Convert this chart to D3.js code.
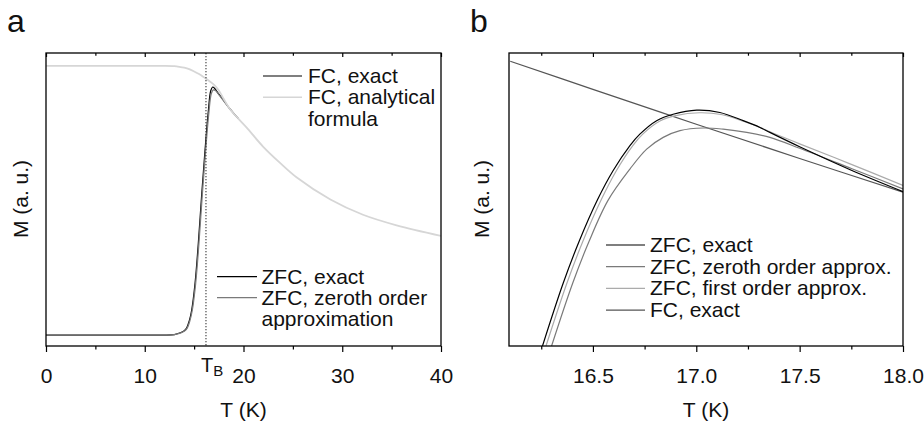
<!DOCTYPE html>
<html><head><meta charset="utf-8">
<script src="https://cdn.jsdelivr.net/npm/d3@7"></script>
<style>body{margin:0;background:#fff} text{font-family:"Liberation Sans",Arial,Helvetica,sans-serif;fill:#111}</style>
</head><body><svg id="c" width="924" height="422"></svg>
<script>
// ---------- Panel a data (T in K, M in a.u., 0..1 of frame) ----------
const aZfcExactT = [0, 10, 12, 13, 13.6, 14.0, 14.25, 14.5, 14.75, 15.09, 15.42, 15.77, 16.10, 16.44, 16.68, 16.88, 17.1, 17.45, 18.0, 18.6, 19.5];
const aZfcExactM = [0.037, 0.037, 0.037, 0.039, 0.045, 0.052, 0.062, 0.085, 0.122, 0.213, 0.349, 0.519, 0.667, 0.803, 0.871, 0.884, 0.878, 0.862, 0.838, 0.810, 0.775];
const aZfcZerothT = [0, 10, 12, 13, 13.66, 14.06, 14.31, 14.56, 14.81, 15.15, 15.48, 15.83, 16.16, 16.50, 16.74, 16.94, 17.15, 17.5, 18.0, 18.6, 19.5];
const aZfcZerothM = [0.037, 0.037, 0.037, 0.039, 0.045, 0.052, 0.062, 0.085, 0.122, 0.213, 0.349, 0.519, 0.667, 0.800, 0.862, 0.874, 0.872, 0.858, 0.836, 0.810, 0.775];
const aFcExactT = [16.9, 17.1, 17.45, 18.0, 18.6, 19.5];
const aFcExactM = [0.884, 0.878, 0.862, 0.838, 0.810, 0.775];
const aFcAnalyticalT = [0, 10, 12, 13, 13.5, 14, 14.5, 15, 15.5, 16, 16.5, 17, 17.5, 18, 18.6, 19.5, 20.3, 22, 23.7, 25.4, 28.8, 32.1, 35.5, 40];
const aFcAnalyticalM = [0.956, 0.956, 0.956, 0.955, 0.953, 0.950, 0.945, 0.937, 0.928, 0.917, 0.905, 0.892, 0.872, 0.843, 0.810, 0.775, 0.746, 0.680, 0.625, 0.575, 0.500, 0.448, 0.412, 0.376];
const aTB = 16.2;
const aMajorTicks = [0, 10, 20, 30, 40];
const aMinorTicks = [5, 15, 25, 35];
const aTickLabels = ["0", "10", "20", "30", "40"];

// ---------- Panel b data ----------
const bZfcExactT = [16.256, 16.356, 16.432, 16.522, 16.598, 16.679, 16.727, 16.808, 16.888, 17.002, 17.114, 17.227, 17.308, 17.356, 17.5, 17.75, 18.0];
const bZfcExactM = [0.0, 0.214, 0.355, 0.499, 0.599, 0.684, 0.723, 0.769, 0.791, 0.805, 0.797, 0.769, 0.746, 0.729, 0.680, 0.600, 0.527];
const bZfcZerothT = [16.300, 16.402, 16.480, 16.573, 16.679, 16.760, 16.840, 16.921, 17.034, 17.130, 17.244, 17.356, 17.5, 17.75, 18.0];
const bZfcZerothM = [0.0, 0.214, 0.355, 0.497, 0.604, 0.672, 0.712, 0.735, 0.744, 0.740, 0.729, 0.712, 0.675, 0.606, 0.536];
const bZfcFirstT = [16.273, 16.374, 16.450, 16.540, 16.614, 16.693, 16.741, 16.822, 16.900, 17.015, 17.120, 17.227, 17.308, 17.356, 17.5, 17.75, 18.0];
const bZfcFirstM = [0.0, 0.214, 0.355, 0.499, 0.599, 0.684, 0.723, 0.767, 0.786, 0.796, 0.790, 0.767, 0.746, 0.731, 0.690, 0.620, 0.548];
const bFcExactT = [16.1, 16.5, 17.0, 17.5, 18.0];
const bFcExactM = [0.972, 0.876, 0.757, 0.640, 0.525];
const bMajorTicks = [16.5, 17.0, 17.5, 18.0];
const bMinorTicks = [16.25, 16.75, 17.25, 17.75];
const bTickLabels = ["16.5", "17.0", "17.5", "18.0"];

const svg = d3.select("#c");
const zip = (T, M) => T.map((t, i) => ({t, m: M[i]}));

function panel(cfg) {
  const x = d3.scaleLinear().domain(cfg.xDomain).range([cfg.left, cfg.right]);
  const y = d3.scaleLinear().domain([0, 1]).range([346, 53]);
  const g = svg.append("g");
  const clipId = "clip" + cfg.id;
  svg.append("clipPath").attr("id", clipId).append("rect")
    .attr("x", cfg.left).attr("y", 53).attr("width", cfg.right - cfg.left).attr("height", 293);
  const line = d3.line().x(d => x(d.t)).y(d => y(d.m)).curve(d3.curveCatmullRom.alpha(0.5));
  const plot = g.append("g").attr("clip-path", `url(#${clipId})`);
  cfg.series.forEach(s => {
    plot.append("path").datum(zip(s.T, s.M)).attr("d", line)
      .attr("fill", "none").attr("stroke", s.color).attr("stroke-width", s.w);
  });
  if (cfg.tb !== undefined) {
    g.append("line").attr("x1", x(cfg.tb)).attr("x2", x(cfg.tb)).attr("y1", 53).attr("y2", 346)
      .attr("stroke", "#222").attr("stroke-width", 1).attr("stroke-dasharray", "1.3,1.7");
    const tl = g.append("text").attr("x", x(cfg.tb) - 5).attr("y", 372).attr("font-size", 20).text("T");
    tl.append("tspan").attr("font-size", 15).attr("dy", 4).text("B");
  }
  const fmt = v => cfg.labels[cfg.major.indexOf(v)];
  const bot = g.append("g").attr("transform", "translate(0,346)")
    .call(d3.axisBottom(x).tickValues(cfg.major).tickSizeInner(6).tickSizeOuter(0).tickFormat(fmt));
  bot.select(".domain").remove();
  bot.selectAll("text").attr("y", 37).attr("dy", 0).attr("font-size", 21)
    .style("font-family", '"Liberation Sans",Arial,sans-serif').attr("fill", "#111");
  bot.selectAll("line").attr("stroke", "#000").attr("stroke-width", 1.2);
  const botMin = g.append("g").attr("transform", "translate(0,346)")
    .call(d3.axisBottom(x).tickValues(cfg.minor).tickSizeInner(3.5).tickSizeOuter(0).tickFormat(""));
  botMin.select(".domain").remove();
  botMin.selectAll("line").attr("stroke", "#000").attr("stroke-width", 1.2);
  const top = g.append("g").attr("transform", "translate(0,53)")
    .call(d3.axisBottom(x).tickValues(cfg.major).tickSizeInner(4).tickSizeOuter(0).tickFormat(""));
  top.select(".domain").remove();
  top.selectAll("line").attr("stroke", "#000").attr("stroke-width", 1.2);
  const topMin = g.append("g").attr("transform", "translate(0,53)")
    .call(d3.axisBottom(x).tickValues(cfg.minor).tickSizeInner(2.7).tickSizeOuter(0).tickFormat(""));
  topMin.select(".domain").remove();
  topMin.selectAll("line").attr("stroke", "#000").attr("stroke-width", 1.2);
  g.append("rect").attr("x", cfg.left).attr("y", 53).attr("width", cfg.right - cfg.left).attr("height", 293)
    .attr("fill", "none").attr("stroke", "#000").attr("stroke-width", 1.3);
  g.append("text").attr("x", (cfg.left + cfg.right) / 2).attr("y", 417).attr("text-anchor", "middle")
    .attr("font-size", 21).text("T (K)");
  g.append("text").attr("transform", `translate(${cfg.yTitleX},199) rotate(-90)`).attr("text-anchor", "middle")
    .attr("font-size", 21).text("M (a. u.)");
  g.append("text").attr("x", cfg.letterX).attr("y", 31.5).attr("font-size", 32).text(cfg.letter);
  cfg.legends.forEach(L => {
    L.items.forEach((it, i) => {
      const yy = L.y + i * L.dy;
      g.append("line").attr("x1", L.x1).attr("x2", L.x2).attr("y1", yy).attr("y2", yy)
        .attr("stroke", it.color).attr("stroke-width", it.w);
      it.lines.forEach((txt, j) => {
        g.append("text").attr("x", L.tx).attr("y", yy + 7 + j * L.dy).attr("font-size", 21).text(txt);
      });
    });
  });
}

const cZfcExact = "#000", cZfcZeroth = "#7a7a7a", cZfcFirst = "#ababab", cFcExact = "#555", cFcAnal = "#d6d6d6";

panel({
  id: "a", letter: "a", letterX: 7, xDomain: [0, 40], left: 46, right: 441, yTitleX: 28,
  major: aMajorTicks, minor: aMinorTicks, labels: aTickLabels, tb: aTB,
  series: [
    {T: aFcExactT, M: aFcExactM, color: cFcExact, w: 1},
    {T: aZfcExactT, M: aZfcExactM, color: cZfcExact, w: 1.2},
    {T: aZfcZerothT, M: aZfcZerothM, color: cZfcZeroth, w: 1.3},
    {T: aFcAnalyticalT, M: aFcAnalyticalM, color: cFcAnal, w: 1.8}
  ],
  legends: [
    {x1: 263, x2: 302, tx: 308, y: 76, dy: 21.3, items: [
      {color: cFcExact, w: 1.4, lines: ["FC, exact"]},
      {color: cFcAnal, w: 1.4, lines: ["FC, analytical", "formula"]}
    ]},
    {x1: 217, x2: 257, tx: 261.5, y: 276.7, dy: 21, items: [
      {color: cZfcExact, w: 1.2, lines: ["ZFC, exact"]},
      {color: cZfcZeroth, w: 1.2, lines: ["ZFC, zeroth order", "approximation"]}
    ]}
  ]
});

panel({
  id: "b", letter: "b", letterX: 470, xDomain: [16.094, 18.0], left: 509, right: 903, yTitleX: 489,
  major: bMajorTicks, minor: bMinorTicks, labels: bTickLabels,
  series: [
    {T: bFcExactT, M: bFcExactM, color: cFcExact, w: 1.2},
    {T: bZfcZerothT, M: bZfcZerothM, color: cZfcZeroth, w: 1.2},
    {T: bZfcFirstT, M: bZfcFirstM, color: cZfcFirst, w: 1.2},
    {T: bZfcExactT, M: bZfcExactM, color: cZfcExact, w: 1.2}
  ],
  legends: [
    {x1: 606, x2: 645, tx: 650, y: 245, dy: 21.7, items: [
      {color: cZfcExact, w: 1.2, lines: ["ZFC, exact"]},
      {color: cZfcZeroth, w: 1.2, lines: ["ZFC, zeroth order approx."]},
      {color: cZfcFirst, w: 1.2, lines: ["ZFC, first order approx."]},
      {color: cFcExact, w: 1.2, lines: ["FC, exact"]}
    ]}
  ]
});
</script></body></html>
